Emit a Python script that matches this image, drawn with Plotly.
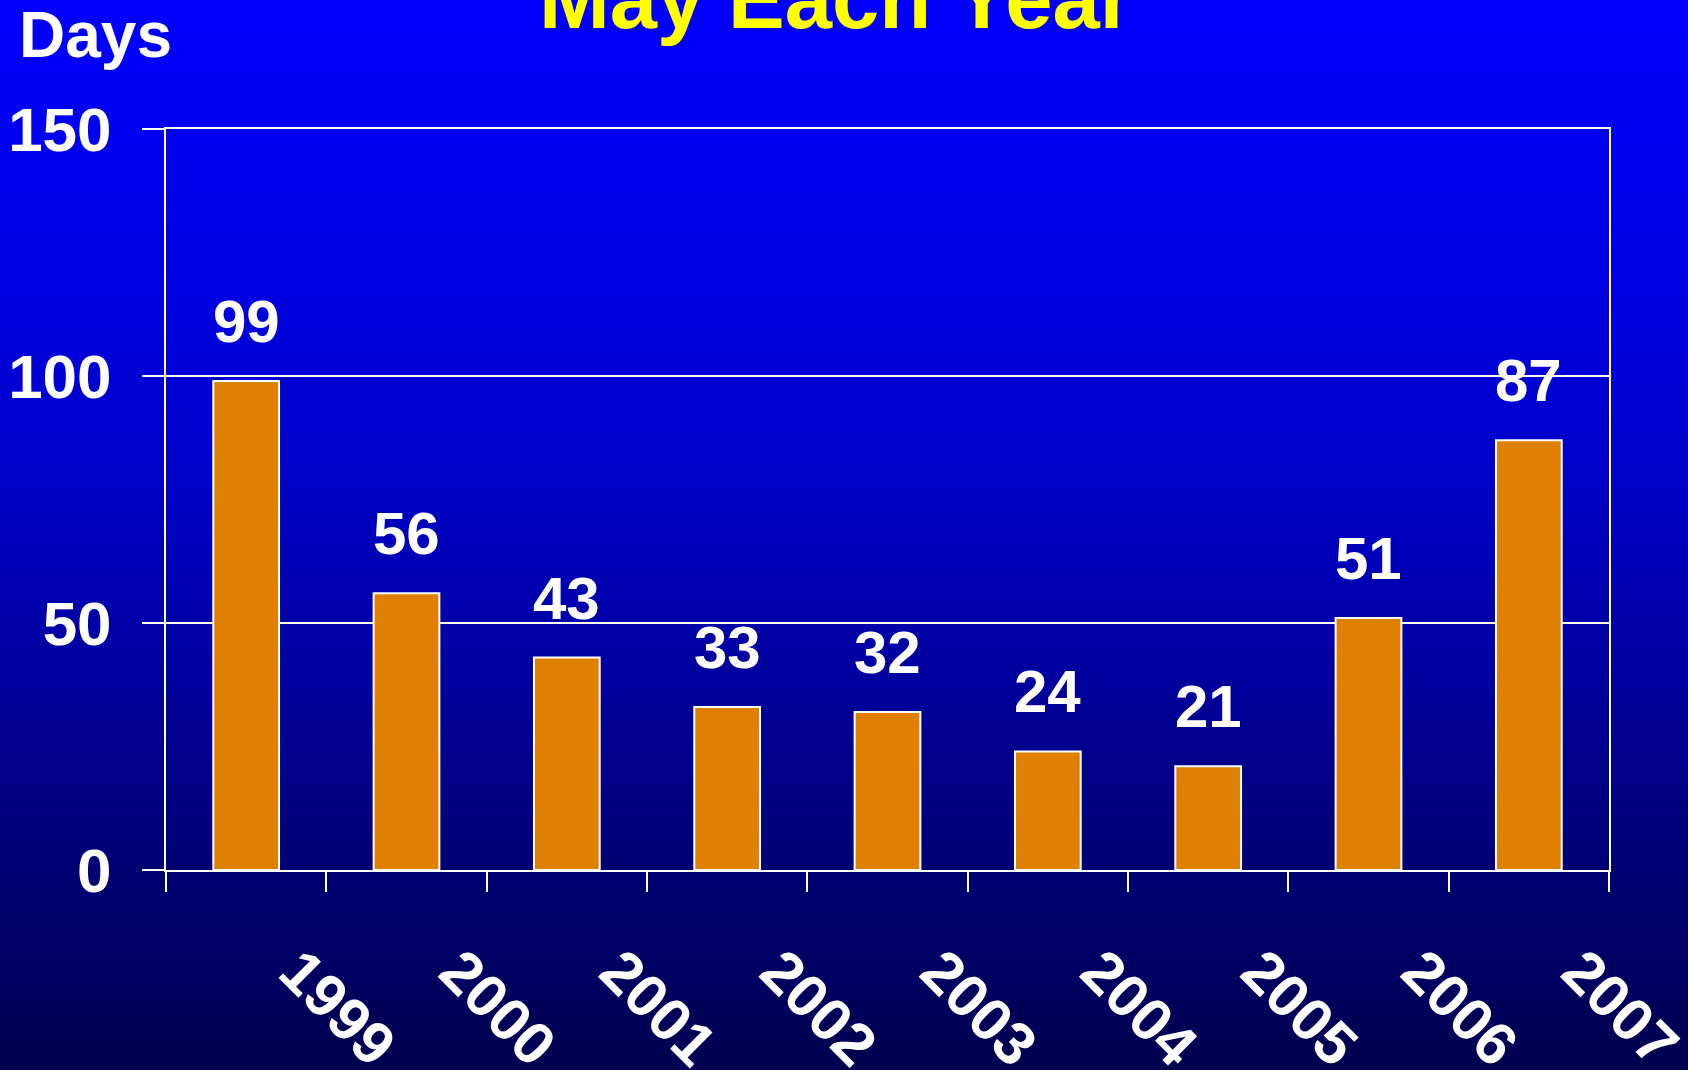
import plotly.graph_objects as go

# ---- data ----
years = ["1999", "2000", "2001", "2002", "2003", "2004", "2005", "2006", "2007"]
days = [99, 56, 43, 33, 32, 24, 21, 51, 87]
y_ticks = [0, 50, 100, 150]
title_text = "May Each Year"
y_title = "Days"

# ---- layout geometry (pixels) ----
W, H = 1688, 1070
ML, MR, MT, MB = 166, 79, 129, 200
PW, PH = W - ML - MR, H - MT - MB

def px_to_paper_y(p):
    return (H - MB - p) / PH

def px_to_paper_x(q):
    return (q - ML) / PW

FONT = "Liberation Sans, Arial, sans-serif"

# background gradient stops (pixel row, blue channel)
stops = [(0, 252), (250, 230), (500, 196), (750, 142), (870, 115), (1070, 80)]

def blue_at(p):
    for (p0, b0), (p1, b1) in zip(stops[:-1], stops[1:]):
        if p0 <= p <= p1:
            t = (p - p0) / (p1 - p0)
            return b0 + (b1 - b0) * t
    return stops[-1][1]

shapes = []
step = 6
for p in range(0, H, step):
    b = int(round(blue_at(p + step / 2)))
    top = p - 6 if p == 0 else p
    shapes.append(dict(
        type="rect", xref="paper", yref="paper", layer="below",
        x0=px_to_paper_x(-4), x1=px_to_paper_x(W + 4),
        y0=px_to_paper_y(p + step + 1), y1=px_to_paper_y(top),
        fillcolor=f"rgb(0,0,{b})", line=dict(width=0),
    ))

fig = go.Figure()
fig.add_trace(go.Bar(
    x=years, y=days, width=0.41,
    marker=dict(color="#E08000", line=dict(color="white", width=2)),
    hoverinfo="skip",
))

annotations = []
for i, v in enumerate(days):
    annotations.append(dict(
        x=i, y=v, xref="x", yref="y", text=str(v), showarrow=False,
        yanchor="bottom", yshift=24,
        font=dict(family=FONT, size=60, color="white", weight="bold"),
    ))

annotations.append(dict(
    x=px_to_paper_x(836), y=px_to_paper_y(-1), xref="paper", yref="paper",
    text=title_text, showarrow=False, xanchor="center", yanchor="middle",
    font=dict(family=FONT, size=85, color="#FFFF00", weight="bold"),
))
annotations.append(dict(
    x=px_to_paper_x(17), y=px_to_paper_y(35), xref="paper", yref="paper",
    text=y_title, showarrow=False, xanchor="left", yanchor="middle",
    font=dict(family=FONT, size=64, color="white", weight="bold"),
))

fig.update_layout(
    width=W, height=H,
    margin=dict(l=ML, r=MR, t=MT, b=MB, autoexpand=False),
    paper_bgcolor="rgb(0,0,80)", plot_bgcolor="rgba(0,0,0,0)",
    showlegend=False, shapes=shapes, annotations=annotations,
    font=dict(family=FONT, color="white"),
)
fig.update_xaxes(
    type="category", range=[-0.5, len(years) - 0.5], automargin=False,
    tickson="boundaries", ticks="outside", ticklen=20,
    tickwidth=2, tickcolor="white", showline=True, linecolor="white",
    linewidth=2, mirror=True, showgrid=False, tickangle=45,
    ticklabelshift=51, ticklabelstandoff=40,
    tickfont=dict(family=FONT, size=60, color="white", weight="bold"),
)
fig.update_yaxes(
    range=[0, 150], tickvals=y_ticks, ticks="outside", ticklen=22,
    automargin=False,
    tickwidth=2, tickcolor="white", showline=True, linecolor="white",
    linewidth=2, mirror=True, showgrid=True, gridcolor="white", gridwidth=2,
    zeroline=False, ticklabelstandoff=18,
    tickfont=dict(family=FONT, size=62, color="white", weight="bold"),
)

fig.write_html(
    "out.html",
    config={"displayModeBar": False},
    post_script="document.body.style.margin='0';document.body.style.background='rgb(0,0,80)';",
)
